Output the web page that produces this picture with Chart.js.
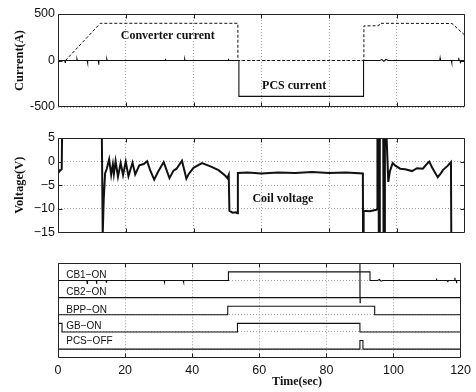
<!DOCTYPE html>
<html><head><meta charset="utf-8">
<script src="https://cdn.jsdelivr.net/npm/chart.js@4/dist/chart.umd.min.js"></script>
<style>
html,body{margin:0;padding:0;background:#fff;}
#wrap{position:relative;width:476px;height:392px;overflow:hidden;background:#fff;}
canvas{position:absolute;left:0;}
</style></head><body>
<div id="wrap">
<canvas id="c1" width="476" height="120" style="top:0px"></canvas>
<canvas id="c2" width="476" height="130" style="top:120px"></canvas>
<canvas id="c3" width="476" height="142" style="top:250px"></canvas>
</div>
<script>
// ---- tick labels ----
const timeTicks = [0, 20, 40, 60, 80, 100, 120];
const currentTicks = [-500, 0, 500];
const voltageTicks = [-15, -10, -5, 0, 5];
const signalGrid = [0.5, 1.5, 2.5, 3.5, 4.5];
const signalNames = ['CB1\u2212ON', 'CB2\u2212ON', 'BPP\u2212ON', 'GB\u2212ON', 'PCS\u2212OFF'];

// ---- top panel: currents (A) ----
const convT = [2.2, 12.5, 53.1, 53.1, 90.3, 90.3, 94.7, 95.0, 116.3, 120];
const convA = [0, 400, 400, 0, 0, 372, 374, 400, 398, 275];
const pcsT = [0, 2.0, 2.1, 2.2, 5.5, 5.6, 5.7, 8.6, 8.7, 8.8, 11.9, 12.0, 12.1, 14.3, 14.4, 14.5, 31.6, 31.7, 31.8, 37.3, 37.4, 37.5, 50.2, 50.3, 50.4, 53.4, 53.4, 90.2, 90.2, 95.0, 95.6, 96.2, 96.8, 97.4, 112.7, 112.8, 112.9, 116.1, 116.2, 116.3, 118.2, 118.3, 118.4, 118.7, 118.8, 118.9, 120];
const pcsA = [0, 0, -20, 0, 0, 15, 0, 0, -25, 0, 0, -45, 0, 0, 15, 0, 0, 20, 0, 0, 15, 0, 0, 20, 0, 0, -386, -386, 0, 0, 10, -8, 12, 0, 0, 25, 0, 0, -25, 0, 0, 30, 0, 0, -30, 0, 0];

// ---- middle panel: coil voltage (V) ----
const coilT = [0, 0.4, 0.8, 1.1, 1.25, 12.9, 13.2, 13.5, 13.9, 14.4, 15.1, 15.7, 16.2, 16.5, 17.0, 17.7, 18.5, 19.2, 20.0, 20.8, 22.0, 22.8, 24.0, 25.3, 26.3, 27.2, 28.4, 29.5, 31.2, 32.9, 34.1, 35.0, 36.6, 37.9, 38.6, 40.0, 42.5, 45.0, 47.4, 49.4, 50.0, 50.4, 50.6, 51.5, 52.5, 52.9, 53.1, 56.0, 60.0, 65.0, 70.0, 75.0, 80.0, 85.0, 90.0, 90.05, 90.2, 90.25, 92.0, 94.0, 94.2, 94.3, 94.6, 94.7, 94.9, 95.0, 96.0, 96.1, 96.4, 96.5, 96.8, 97.5, 98.0, 98.8, 99.5, 101.0, 102.5, 104.5, 106.0, 107.7, 109.0, 109.6, 110.4, 111.2, 112.1, 113.0, 113.6, 115.0, 116.0, 116.1, 120];
const coilV = [-1.5, -2.1, -1.8, -1.6, 9, 9, -15.5, -8, -2.5, -1.5, 0.5, -2.8, -0.6, -2.6, 0.1, -3.2, -0.3, -2.8, 0.0, -3.1, -0.2, -2.7, -0.8, -0.5, 0.1, -1.8, -3.8, -2.2, -0.1, -3.5, -1.9, -1.5, 0.2, -3.6, -2.6, -1.3, -0.3, -1.0, -1.8, -3.0, -3.5, -2.8, -10.4, -10.8, -10.7, -10.9, -2.4, -2.3, -2.5, -2.3, -2.4, -2.2, -2.4, -2.3, -2.5, -16, -16, -10.4, -10.5, -10.2, -10.0, 9, 9, -16, -16, 9, 9, -16, -16, 9, 9, -4.3, -2.0, -0.3, -0.8, -1.5, -1.6, -2.0, -1.4, -1.5, -0.4, 0.0, -1.2, -2.2, -3.3, -2.5, -1.8, -0.9, -0.1, -16, -16];

// ---- bottom panel: switch signals ----
const cb1T = [0, 8.6, 8.7, 8.8, 11.4, 11.5, 11.6, 14.3, 14.4, 14.5, 31.6, 31.7, 31.8, 37.3, 37.4, 37.5, 50.8, 50.8, 93.0, 93.0, 95.3, 95.8, 96.3, 96.8, 112.7, 112.8, 112.9, 116.1, 116.2, 116.3, 118.2, 118.3, 118.4, 118.7, 118.8, 118.9, 120];
const cb1V = [4.5, 4.5, 4.32, 4.5, 4.5, 4.3, 4.5, 4.5, 4.4, 4.5, 4.5, 4.4, 4.5, 4.5, 4.4, 4.5, 4.5, 5.0, 5.0, 4.5, 4.5, 4.56, 4.46, 4.5, 4.5, 4.62, 4.5, 4.5, 4.4, 4.5, 4.5, 4.66, 4.5, 4.5, 4.34, 4.5, 4.5];
const cb2T = [0, 89.95, 90.0, 90.05, 90.1, 120];
const cb2V = [3.5, 3.5, 6, 3.2, 3.5, 3.5];
const bppT = [0, 50.6, 50.6, 94.4, 94.4, 120];
const bppV = [2.5, 2.5, 3.0, 3.0, 2.5, 2.5];
const gbT = [0, 1.2, 1.2, 53.5, 53.5, 90.0, 90.0, 120];
const gbV = [2.0, 2.0, 1.5, 1.5, 2.0, 2.0, 1.5, 1.5];
const pcsOffT = [0, 90.0, 90.0, 90.9, 90.9, 120];
const pcsOffV = [0.5, 0.5, 1.0, 1.0, 0.5, 0.5];

// ---- helpers ----
function pts(t, v) { return t.map((x, i) => ({x: x, y: v[i]})); }
const SANS = "'Liberation Sans', Arial, Helvetica, sans-serif";
const SERIF = "'Liberation Serif', 'Times New Roman', serif";
const TICK_FONT = {family: SANS, size: 12.5};
const INK = '#111';

const framePlugin = {
  id: 'frame',
  afterDraw(chart, args, opts) {
    const {ctx, chartArea: a, scales} = chart;
    ctx.save();
    ctx.strokeStyle = '#222';
    ctx.lineWidth = 1;
    const L = Math.round(a.left) + 0.5, T = Math.round(a.top) + 0.5;
    const R = Math.round(a.right) - 0.5, B = Math.round(a.bottom) - 0.5;
    ctx.beginPath();
    ctx.rect(L, T, R - L, B - T);
    ctx.stroke();
    ctx.beginPath();
    timeTicks.forEach(v => {
      if (v <= 0 || v >= 120) return;
      const x = Math.round(scales.x.getPixelForValue(v)) + 0.5;
      ctx.moveTo(x, T); ctx.lineTo(x, T + 4);
      ctx.moveTo(x, B); ctx.lineTo(x, B - 4);
    });
    (opts.yTicks || []).forEach(v => {
      const y = Math.round(scales.y.getPixelForValue(v)) + 0.5;
      if (y <= T + 1 || y >= B - 1) return;
      ctx.moveTo(L, y); ctx.lineTo(L + 4, y);
      ctx.moveTo(R, y); ctx.lineTo(R - 4, y);
    });
    ctx.stroke();
    (opts.labels || []).forEach(l => {
      ctx.font = l.font;
      ctx.fillStyle = INK;
      ctx.textAlign = l.align || 'center';
      ctx.textBaseline = 'middle';
      const px = l.abs ? l.x : scales.x.getPixelForValue(l.x);
      const py = l.abs ? l.y : scales.y.getPixelForValue(l.y);
      ctx.fillText(l.text, px, py);
    });
    ctx.restore();
  }
};

function xScale(showLabels, h) {
  return {
    type: 'linear', min: 0, max: 120,
    afterBuildTicks: s => { s.ticks = timeTicks.map(v => ({value: v})); },
    ticks: {display: showLabels, font: TICK_FONT, color: INK, padding: 5},
    grid: {color: '#a0a0a0', lineWidth: 1, drawTicks: false},
    border: {display: false, dash: [1, 2]},
    afterFit: s => { s.height = h; }
  };
}
function yScale(min, max, tickVals, fmt, title) {
  return {
    type: 'linear', min: min, max: max,
    afterBuildTicks: s => { s.ticks = tickVals.map(v => ({value: v})); },
    ticks: {display: !!fmt, font: TICK_FONT, color: INK, padding: 3, callback: fmt || (v => '')},
    grid: {color: '#a0a0a0', lineWidth: 1, drawTicks: false},
    border: {display: false, dash: [1, 2]},
    title: title ? {display: true, text: title, color: INK, font: {family: SERIF, size: 12.5, weight: 'bold'}, padding: {top: 12, bottom: 0}} : {display: false},
    afterFit: s => { s.width = 58; }
  };
}
const baseOpts = {
  responsive: false, animation: false, events: [],
  elements: {point: {radius: 0}, line: {tension: 0}},
};
function line(data, opts) {
  return Object.assign({data: data, borderColor: INK, borderWidth: 1, pointRadius: 0, fill: false, clip: 0}, opts || {});
}

// ---- panel 1: currents ----
new Chart(document.getElementById('c1'), {
  type: 'line',
  data: {datasets: [
    line(pts(convT, convA), {borderDash: [3, 2], borderWidth: 1}),
    line(pts(pcsT, pcsA), {borderWidth: 1.1})
  ]},
  options: Object.assign({}, baseOpts, {
    layout: {padding: {top: 14, bottom: 13, left: 0, right: 11.5}},
    scales: {
      x: xScale(false, 0),
      y: yScale(-500, 500, currentTicks, v => String(v), 'Current(A)')
    },
    plugins: {legend: {display: false}, tooltip: {enabled: false},
      frame: {yTicks: currentTicks, labels: [
        {text: 'Converter current', x: 32.4, y: 262, font: 'bold 12px ' + SERIF},
        {text: 'PCS current', x: 69.7, y: -272, font: 'bold 12px ' + SERIF}
      ]}}
  }),
  plugins: [framePlugin]
});

// ---- panel 2: coil voltage ----
new Chart(document.getElementById('c2'), {
  type: 'line',
  data: {datasets: [ line(pts(coilT, coilV), {borderWidth: 2}) ]},
  options: Object.assign({}, baseOpts, {
    layout: {padding: {top: 18, bottom: 17.5, left: 0, right: 11.5}},
    scales: {
      x: xScale(false, 0),
      y: yScale(-15, 5, voltageTicks, v => (v < 0 ? '\u2212' + Math.abs(v) : String(v)), 'Voltage(V)')
    },
    plugins: {legend: {display: false}, tooltip: {enabled: false},
      frame: {yTicks: voltageTicks, labels: [
        {text: 'Coil voltage', x: 66.4, y: -7.9, font: 'bold 12px ' + SERIF}
      ]}}
  }),
  plugins: [framePlugin]
});

// ---- panel 3: switch signals ----
const sigLabelLevels = [4.78, 3.79, 2.78, 1.85, 0.94];
new Chart(document.getElementById('c3'), {
  type: 'line',
  data: {datasets: [
    line(pts(cb1T, cb1V), {borderWidth: 1.1}),
    line(pts(cb2T, cb2V), {borderWidth: 1.1}),
    line(pts(bppT, bppV), {borderWidth: 1.1}),
    line(pts(gbT, gbV), {borderWidth: 1.1}),
    line(pts(pcsOffT, pcsOffV), {borderWidth: 1.1})
  ]},
  options: Object.assign({}, baseOpts, {
    layout: {padding: {top: 13.3, bottom: 0, left: 0, right: 11.5}},
    scales: {
      x: xScale(true, 34.3),
      y: yScale(0, 5.5, signalGrid, null, null)
    },
    plugins: {legend: {display: false}, tooltip: {enabled: false},
      frame: {yTicks: [], labels: signalNames.map((n, i) => (
        {text: n, x: 2.45, y: sigLabelLevels[i], align: 'left', font: '10px ' + SANS}
      )).concat([
        {text: 'Time(sec)', x: 297, y: 132, abs: true, font: 'bold 12px ' + SERIF}
      ])}}
  }),
  plugins: [framePlugin]
});
</script>
</body></html>
